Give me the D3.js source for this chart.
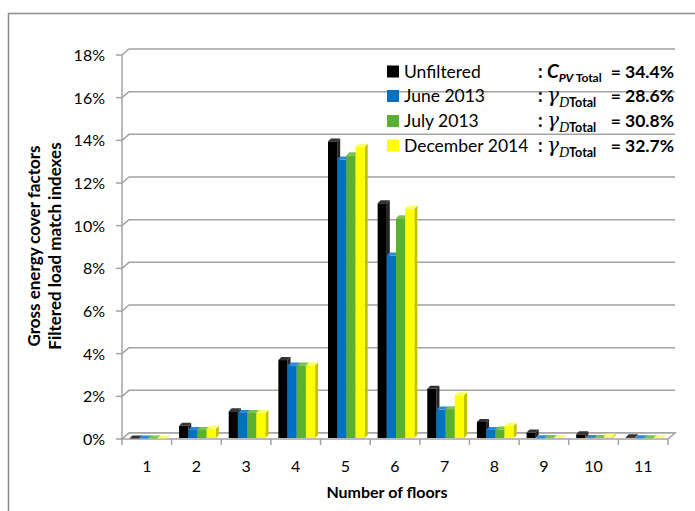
<!DOCTYPE html>
<html>
<head>
<meta charset="utf-8">
<script src="https://cdn.jsdelivr.net/npm/d3@7"></script>
<style>
  body { margin: 0; background: #fff; }
  svg { display: block; }
  text { font-family: Lato, "Open Sans", sans-serif; fill: #000; }
</style>
</head>
<body>
<div id="chart"></div>
<script>
// values, in percent
const floors = ["1", "2", "3", "4", "5", "6", "7", "8", "9", "10", "11"];
const unfiltered = [0.02, 0.62, 1.3, 3.7, 13.95, 11.05, 2.35, 0.8, 0.3, 0.22, 0.08];
const june2013 = [0.02, 0.42, 1.22, 3.45, 13.1, 8.6, 1.38, 0.42, 0.03, 0.05, 0.03];
const july2013 = [0.02, 0.42, 1.22, 3.45, 13.3, 10.35, 1.4, 0.45, 0.05, 0.05, 0.03];
const dec2014 = [0.02, 0.48, 1.22, 3.45, 13.7, 10.8, 2.05, 0.62, 0.05, 0.12, 0.03];
const yTicks = [0, 2, 4, 6, 8, 10, 12, 14, 16, 18];

const seriesNames = ["Unfiltered", "June 2013", "July 2013", "December 2014"];
const seriesValues = [unfiltered, june2013, july2013, dec2014];
const totalValues = ["= 34.4%", "= 28.6%", "= 30.8%", "= 32.7%"];

const fills = ["#000000", "#0070c0", "#5bb12f", "#ffff00"];
const sides = ["#262626", "#00548f", "#43861f", "#c2c200"];
const tops = ["#333333", "#2b8ad6", "#78c44e", "#ffff66"];

var width = 695, height = 511;
var svg = d3.select("#chart").append("svg")
    .attr("width", width).attr("height", height);

// outer frame of the chart area
svg.append("rect")
    .attr("x", 8.5).attr("y", 13.5)
    .attr("width", 720).attr("height", 520)
    .attr("fill", "none").attr("stroke", "#8c8c8c").attr("stroke-width", 1.5);

var x = d3.scaleBand().domain(floors).range([122, 668]).paddingInner(0.26).paddingOuter(0.13);
var xCat = d3.scaleBand().domain(floors).range([122, 668]);
var xs = d3.scaleBand().domain(seriesNames).range([0, x.bandwidth()]);
var y = d3.scaleLinear().domain([0, 18]).range([439, 55]);

// depth of the floor / walls and of each column
var dx = 7, dy = -6;
var bx = 3, by = -3;

// back wall gridlines
svg.append("g").selectAll("path")
    .data(yTicks)
    .enter().append("path")
    .attr("d", function(d) {
        return "M122," + y(d) + "L" + (122 + dx) + "," + (y(d) + dy) + "L" + (668 + dx) + "," + (y(d) + dy);
    })
    .attr("fill", "none").attr("stroke", "#a3a3a3").attr("stroke-width", 1.5);

// floor
svg.append("path")
    .attr("d", "M122," + y(0) + "L668," + y(0) + "L" + (668 + dx) + "," + (y(0) + dy) + "L" + (122 + dx) + "," + (y(0) + dy) + "Z")
    .attr("fill", "#fff").attr("stroke", "#a3a3a3").attr("stroke-width", 1.5);

// y axis
svg.append("line")
    .attr("x1", 122).attr("x2", 122).attr("y1", y(0)).attr("y2", y(18))
    .attr("stroke", "#a3a3a3").attr("stroke-width", 1.5);
svg.append("g").selectAll("line")
    .data(yTicks).enter().append("line")
    .attr("x1", 116).attr("x2", 122)
    .attr("y1", function(d) { return y(d); }).attr("y2", function(d) { return y(d); })
    .attr("stroke", "#a3a3a3").attr("stroke-width", 1.5);
svg.append("g").selectAll("text")
    .data(yTicks).enter().append("text")
    .attr("x", 105).attr("y", function(d) { return y(d) + 6; })
    .attr("text-anchor", "end").attr("font-size", 16)
    .text(function(d) { return d + "%"; });

// x axis ticks at category boundaries
svg.append("g").selectAll("line")
    .data(floors.concat(["end"])).enter().append("line")
    .attr("x1", function(d, i) { return 122 + i * xCat.step(); })
    .attr("x2", function(d, i) { return 122 + i * xCat.step(); })
    .attr("y1", y(0)).attr("y2", y(0) + 6)
    .attr("stroke", "#a3a3a3").attr("stroke-width", 1.5);
svg.append("g").selectAll("text")
    .data(floors).enter().append("text")
    .attr("x", function(d) { return xCat(d) + xCat.bandwidth() / 2; })
    .attr("y", 472)
    .attr("text-anchor", "middle").attr("font-size", 16)
    .text(function(d) { return d; });

// 3D columns
var barData = [];
floors.forEach(function(f, i) {
    seriesValues.forEach(function(vals, s) {
        barData.push({floor: f, s: s, v: vals[i]});
    });
});
var bars = svg.append("g").selectAll("g")
    .data(barData).enter().append("g");
bars.each(function(d) {
    var g = d3.select(this);
    var x0 = x(d.floor) + xs(seriesNames[d.s]) + 1, w = xs.bandwidth();
    var y0 = y(0) - 1, y1 = y(d.v);
    // side
    g.append("path")
        .attr("d", "M" + (x0 + w) + "," + y0 + "L" + (x0 + w + bx) + "," + (y0 + by) +
            "L" + (x0 + w + bx) + "," + (y1 + by) + "L" + (x0 + w) + "," + y1 + "Z")
        .attr("fill", sides[d.s]);
    // front
    g.append("rect")
        .attr("x", x0).attr("y", y1).attr("width", w).attr("height", Math.max(0, y0 - y1))
        .attr("fill", fills[d.s]);
    // top
    g.append("path")
        .attr("d", "M" + x0 + "," + y1 + "L" + (x0 + w) + "," + y1 + "L" + (x0 + w + bx) + "," + (y1 + by) +
            "L" + (x0 + bx) + "," + (y1 + by) + "Z")
        .attr("fill", tops[d.s]);
});

// legend
var rowY = [77.5, 102, 127, 151.5];
var legend = svg.append("g");
seriesNames.forEach(function(name, i) {
    legend.append("rect")
        .attr("x", 387).attr("y", rowY[i] - 12).attr("width", 12).attr("height", 12)
        .attr("fill", fills[i]);
    legend.append("text")
        .attr("x", 404).attr("y", rowY[i]).attr("font-size", 17.5)
        .text(name);
    legend.append("text")
        .attr("x", 538).attr("y", rowY[i]).attr("font-size", 18).attr("font-weight", "bold")
        .text(":");
    legend.append("text")
        .attr("x", 674).attr("y", rowY[i]).attr("font-size", 17.5).attr("font-weight", "bold")
        .attr("text-anchor", "end")
        .text(totalValues[i]);
    var t = legend.append("text").attr("x", 547).attr("y", rowY[i]);
    if (i == 0) {
        t.append("tspan").attr("font-size", 19).attr("font-weight", "bold").attr("font-style", "italic").text("C");
        t.append("tspan").attr("font-size", 12).attr("font-weight", "bold").attr("font-style", "italic")
            .attr("dy", 4).text("PV ");
        t.append("tspan").attr("font-size", 12).attr("font-weight", "bold").text("Total");
    } else {
        t.append("tspan").attr("font-size", 20).attr("font-style", "italic")
            .style("font-family", "'DejaVu Serif', serif").text("γ");
        t.append("tspan").attr("font-size", 14).attr("font-style", "italic").attr("dy", 5)
            .style("font-family", "'Liberation Serif', serif").text("D");
        t.append("tspan").attr("font-size", 12.5).attr("font-weight", "bold").text("Total");
    }
});

// axis titles
var yTitle = svg.append("text")
    .attr("transform", "translate(40,246) rotate(-90)")
    .attr("text-anchor", "middle").attr("font-size", 17).attr("font-weight", "bold");
yTitle.append("tspan").attr("x", 0).attr("dy", 0).text("Gross energy cover factors");
yTitle.append("tspan").attr("x", 0).attr("dy", 21).text("Filtered load match indexes");

svg.append("text")
    .attr("x", 387).attr("y", 498)
    .attr("text-anchor", "middle").attr("font-size", 16).attr("font-weight", "bold")
    .text("Number of floors");
</script>
</body>
</html>
